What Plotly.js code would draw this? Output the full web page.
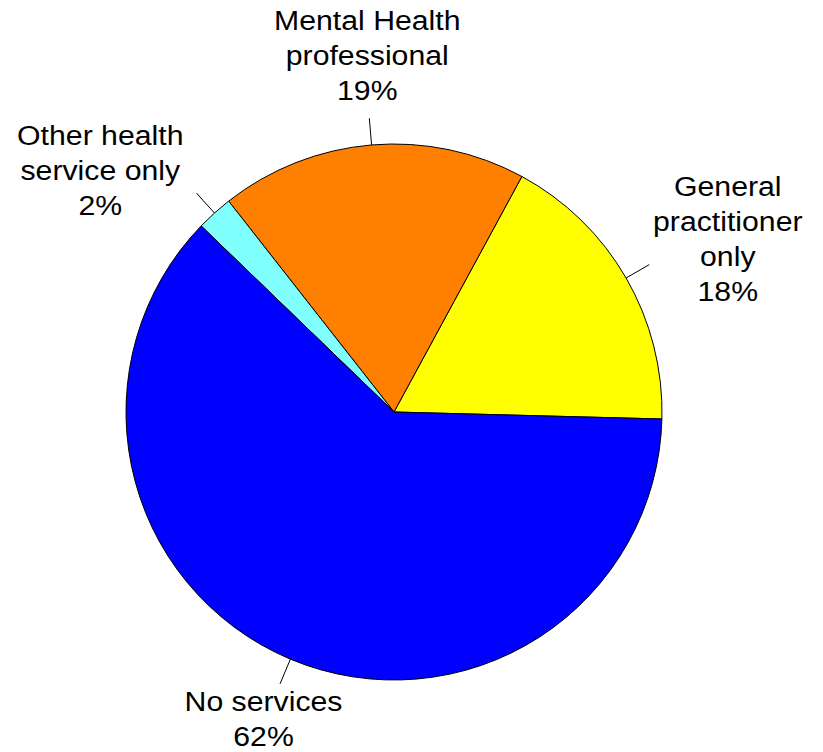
<!DOCTYPE html>
<html>
<head>
<meta charset="utf-8">
<script src="https://cdn.plot.ly/plotly-3.0.1.min.js"></script>
<style>
  html, body { margin: 0; padding: 0; background: #fff; }
  #chart { width: 823px; height: 752px; }
</style>
</head>
<body>
<div id="chart"></div>
<script>
// ---- data ----
const categories = ['General practitioner only', 'Mental Health professional', 'Other health service only', 'No services'];
const labelText = ['General<br>practitioner<br>only', 'Mental Health<br>professional', 'Other health<br>service only', 'No services'];
const values = [17.5, 18.5, 2.2, 61.8];

// ---- styles / layout constants ----
const colors = ['#FFFF00', '#FF8000', '#80FFFF', '#0000FF'];
const W = 823, H = 752;
const CX = 394, CY = 412, R = 268;      // pie centre & radius in px
const START_MATH = -1.5;                // math angle (deg) where first slice starts, going counter-clockwise
const LEADER_OUT = 1.1;                 // leader line end as fraction of radius
// label centre offsets (px) from the outer end of each leader line
const labelOffsets = [[79, -25], [-2, -62], [-96, -22], [-17, 36]];
const FONT = { family: 'Liberation Sans, Arial, sans-serif', size: 27, color: '#000' };
const STRETCH = 1.12;

// ---- derived geometry ----
const total = Math.round(values.reduce((a, b) => a + b, 0) * 1000) / 1000;
const px2x = p => p / W;
const py2y = p => 1 - p / H;
// plotly (counterclockwise): first slice occupies [rotation, rotation + v0] measured clockwise from 12 o'clock
const rotation = (90 - START_MATH) - 360 * values[0] / total;

const shapes = [];
const annotations = [];
let cum = 0;
values.forEach((v, i) => {
  const mid = (START_MATH + 360 * (cum + v / 2) / total) * Math.PI / 180;
  cum += v;
  const x0 = CX + R * Math.cos(mid), y0 = CY - R * Math.sin(mid);
  const x1 = CX + R * LEADER_OUT * Math.cos(mid), y1 = CY - R * LEADER_OUT * Math.sin(mid);
  shapes.push({
    type: 'line', xref: 'paper', yref: 'paper',
    x0: px2x(x0), y0: py2y(y0), x1: px2x(x1), y1: py2y(y1),
    line: { color: '#000', width: 1 }
  });
  const pct = Math.round(v * 100 / total);
  annotations.push({
    xref: 'paper', yref: 'paper',
    x: px2x(x1 + labelOffsets[i][0]), y: py2y(y1 + labelOffsets[i][1]),
    xanchor: 'center', yanchor: 'middle', align: 'center',
    showarrow: false,
    text: labelText[i] + '<br>' + pct + '%',
    font: FONT
  });
});

const trace = {
  type: 'pie',
  labels: categories,
  values: values,
  sort: false,
  direction: 'counterclockwise',
  rotation: rotation,
  marker: { colors: colors, line: { color: '#000', width: 1 } },
  textinfo: 'none',
  hoverinfo: 'skip',
  showlegend: false,
  domain: { x: [px2x(CX - R), px2x(CX + R)], y: [py2y(CY + R), py2y(CY - R)] }
};

const layout = {
  width: W, height: H,
  margin: { l: 0, r: 0, t: 0, b: 0 },
  paper_bgcolor: '#fff',
  showlegend: false,
  shapes: shapes,
  annotations: annotations
};

Plotly.newPlot('chart', [trace], layout, { staticPlot: true, displayModeBar: false }).then(() => {
  document.querySelectorAll('#chart .annotation-text').forEach(t => {
    const bb = t.getBBox();
    const cx = bb.x + bb.width / 2;
    const prev = t.getAttribute('transform') || '';
    t.setAttribute('transform', prev + ' translate(' + (cx * (1 - STRETCH)) + ',0) scale(' + STRETCH + ',1)');
  });
});
</script>
</body>
</html>
